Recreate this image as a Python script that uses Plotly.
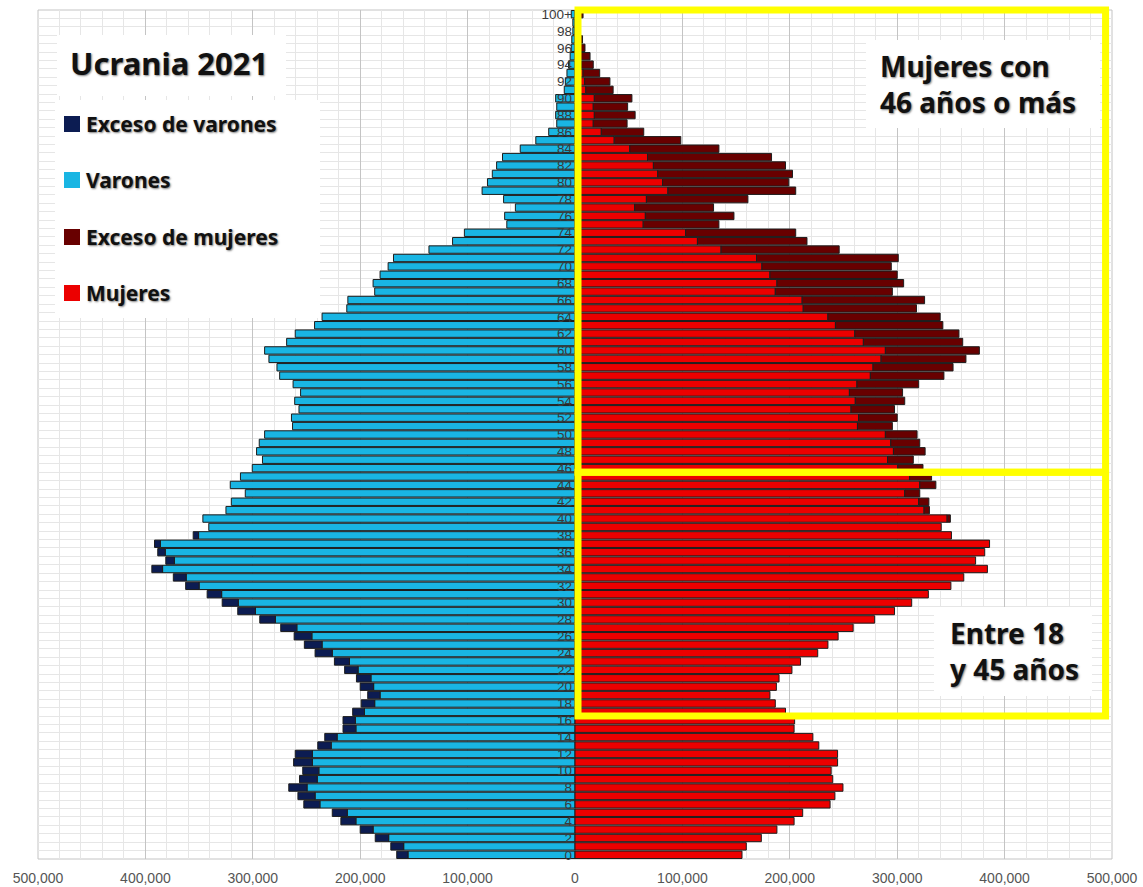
import plotly.graph_objects as go

# ---------------- data ----------------
ages = list(range(101))
age_labels = [str(a) if a < 100 else "100+" for a in ages]

male_total = [
    166000, 171500, 186000, 200000, 218000, 226000, 252500, 258000, 266500, 256500,   # 0-9
    253500, 262000, 260500, 239500, 233000, 216000, 216000, 207000, 199000, 193000,   # 10-19
    200000, 203500, 214500, 224000, 242000, 252000, 261500, 274000, 293500, 314000,   # 20-29
    328500, 342500, 362500, 374000, 394000, 381000, 388500, 391500, 355500, 341000,   # 30-39
    346500, 325000, 320000, 307000, 321000, 311500, 300500, 291000, 296500, 294000,   # 40-49
    289000, 263000, 264000, 257000, 261000, 255500, 262500, 275000, 277500, 285000,   # 50-59
    289000, 268500, 260500, 242500, 235500, 212500, 211500, 186500, 188000, 181500,   # 60-69
    174000, 169000, 136000, 114000, 103000, 63500, 65500, 55500, 66500, 86500,        # 70-79
    81500, 77000, 73000, 67500, 51000, 36500, 24500, 17000, 18000, 17000,             # 80-89
    18000, 10000, 9000, 7500, 6000, 4500, 3500, 3000, 2000, 2000,                     # 90-99
    3500,                                                                              # 100+
]

female_total = [
    155500, 159500, 173500, 188000, 204000, 212000, 237500, 242000, 249500, 240000,   # 0-9
    238500, 244500, 244500, 227000, 221500, 204000, 204500, 196000, 186500, 181500,   # 10-19
    187500, 190000, 202000, 210000, 226000, 235500, 245000, 259000, 279000, 297500,   # 20-29
    313500, 329000, 350000, 362000, 384000, 373000, 381500, 386000, 350500, 341000,   # 30-39
    349500, 330000, 329500, 321000, 336000, 332000, 324000, 315000, 326000, 321000,   # 40-49
    318500, 295500, 300000, 297500, 307000, 305000, 320000, 343500, 352000, 364000,   # 50-59
    376500, 361000, 357500, 342500, 340000, 318000, 325500, 295500, 306000, 300000,   # 60-69
    294500, 301000, 246000, 216000, 205500, 134000, 148000, 129000, 161000, 205500,   # 70-79
    199000, 202500, 196000, 183000, 134000, 98500, 64000, 48500, 56000, 49000,        # 80-89
    53000, 35500, 32500, 23000, 17000, 14000, 9300, 7000, 5000, 4000,                 # 90-99
    7500,                                                                              # 100+
]

x_ticks = [-500000, -400000, -300000, -200000, -100000, 0, 100000, 200000, 300000, 400000, 500000]
x_tick_text = [f"{abs(v):,}" for v in x_ticks]

legend_names = ["Exceso de varones", "Varones", "Exceso de mujeres", "Mujeres"]

# regions highlighted by the yellow frames (age boundaries, x extent in population)
older_region = (45.5, 100.5)
younger_region = (16.5, 45.5)
frame_x = (2800, 494000)

# ---------------- derived series ----------------
common = [min(m, f) for m, f in zip(male_total, female_total)]
excess_m = [(m - f) if m > f else None for m, f in zip(male_total, female_total)]
excess_f = [(f - m) if f > m else None for m, f in zip(male_total, female_total)]

C_BLUE = "#19b5e3"
C_NAVY = "#0c1c52"
C_RED = "#ec0000"
C_DRED = "#680000"
OUTLINE = dict(color="#1d1d1d", width=1)
legend_colors = [C_NAVY, C_BLUE, C_DRED, C_RED]

XMIN, XMAX = -500000, 500000
YMIN, YMAX = -0.5, 100.5

W, H = 1143, 887
ML, MR, MT, MB = 38, 31, 10, 28
PW, PH = W - ML - MR, H - MT - MB


def px_x(px):
    return (px - ML) / PW


def px_y(py):
    return (H - MB - py) / PH


def dx(v):
    return (v - XMIN) / (XMAX - XMIN)


def dy(v):
    return (v - YMIN) / (YMAX - YMIN)


fig = go.Figure()
fig.add_trace(go.Bar(
    y=ages, x=[-c for c in common], orientation="h", name="Varones",
    marker=dict(color=C_BLUE, line=OUTLINE),
))
fig.add_trace(go.Bar(
    y=ages, x=[(-e if e is not None else None) for e in excess_m], orientation="h",
    name="Exceso de varones", marker=dict(color=C_NAVY, line=OUTLINE),
))
fig.add_trace(go.Bar(
    y=ages, x=common, orientation="h", name="Mujeres",
    marker=dict(color=C_RED, line=OUTLINE),
))
fig.add_trace(go.Bar(
    y=ages, x=excess_f, orientation="h", name="Exceso de mujeres",
    marker=dict(color=C_DRED, line=OUTLINE),
))

SHADOW = "1px 1px 2px rgba(0,0,0,0.5)"
TXT_FONT = "Noto Sans"

shapes = [
    # plot frame
    dict(type="rect", xref="paper", yref="paper", x0=0, x1=1, y0=0, y1=1,
         line=dict(color="#c4c4c4", width=1), layer="below"),
    # white boxes behind the texts
    dict(type="rect", xref="paper", yref="paper", x0=px_x(57), x1=px_x(286), y0=px_y(96), y1=px_y(35),
         fillcolor="white", line=dict(width=0), layer="above"),
    dict(type="rect", xref="paper", yref="paper", x0=px_x(55), x1=px_x(320), y0=px_y(318), y1=px_y(100),
         fillcolor="white", line=dict(width=0), layer="above"),
    dict(type="rect", xref="paper", yref="paper", x0=px_x(866), x1=px_x(1100), y0=px_y(128), y1=px_y(40),
         fillcolor="white", line=dict(width=0), layer="above"),
    dict(type="rect", xref="paper", yref="paper", x0=px_x(934), x1=px_x(1092), y0=px_y(696), y1=px_y(607),
         fillcolor="white", line=dict(width=0), layer="above"),
    # yellow frames
    dict(type="rect", xref="paper", yref="paper", x0=dx(frame_x[0]), x1=dx(frame_x[1]),
         y0=dy(older_region[0]), y1=dy(older_region[1]),
         line=dict(color="#ffff00", width=7), layer="above"),
    dict(type="rect", xref="paper", yref="paper", x0=dx(frame_x[0]), x1=dx(frame_x[1]),
         y0=dy(younger_region[0]), y1=dy(younger_region[1]),
         line=dict(color="#ffff00", width=7), layer="above"),
]

annotations = [
    dict(text="<b>Ucrania 2021</b>", xref="paper", yref="paper", x=px_x(68), y=px_y(63),
         xanchor="left", yanchor="middle", showarrow=False,
         font=dict(family=TXT_FONT, size=31, color="#111111", shadow=SHADOW)),
    dict(text="<b>Mujeres con<br>46 años o más</b>", xref="paper", yref="paper", x=px_x(878), y=px_y(84),
         xanchor="left", yanchor="middle", showarrow=False, align="left",
         font=dict(family=TXT_FONT, size=28, color="#111111", shadow=SHADOW)),
    dict(text="<b>Entre 18<br>y 45 años</b>", xref="paper", yref="paper", x=px_x(948), y=px_y(651),
         xanchor="left", yanchor="middle", showarrow=False, align="left",
         font=dict(family=TXT_FONT, size=28, color="#111111", shadow=SHADOW)),
]

# hand-drawn legend (large square keys as in the reference)
leg_y = [124, 180, 237, 293]
for name, col, ly in zip(legend_names, legend_colors, leg_y):
    shapes.append(dict(type="rect", xref="paper", yref="paper",
                       x0=px_x(64), x1=px_x(80), y0=px_y(ly + 8), y1=px_y(ly - 8),
                       fillcolor=col, line=dict(width=0), layer="above"))
    annotations.append(dict(text=f"<b>{name}</b>", xref="paper", yref="paper",
                            x=px_x(84), y=px_y(ly), xanchor="left", yanchor="middle", showarrow=False,
                            font=dict(family=TXT_FONT, size=21, color="#111111", shadow=SHADOW)))

fig.update_layout(
    width=W, height=H,
    margin=dict(l=ML, r=MR, t=MT, b=MB, autoexpand=False),
    paper_bgcolor="white", plot_bgcolor="white",
    barmode="relative", bargap=0.12,
    shapes=shapes, annotations=annotations,
    showlegend=False,
    xaxis=dict(
        range=[XMIN, XMAX], tickmode="array", tickvals=x_ticks, ticktext=x_tick_text,
        tickfont=dict(family="Liberation Sans", size=14, color="#555555"),
        showgrid=True, gridcolor="#c4c4c4", gridwidth=1.3, zeroline=False,
        minor=dict(dtick=20000, tick0=0, showgrid=True, gridcolor="#e6e6e6", gridwidth=1),
        showline=False, ticks="", ticklabelstandoff=9, automargin=False,
    ),
    yaxis=dict(
        range=[YMIN, YMAX], tickmode="array", tickvals=ages[::2], ticktext=age_labels[::2],
        anchor="free", position=0.5, side="left",
        tickfont=dict(family="Liberation Sans", size=13.5, color="#3a3a3a"),
        showgrid=False, zeroline=False, showline=False, ticks="", ticklabelstandoff=3,
        minor=dict(dtick=1, tick0=0.5, showgrid=True, gridcolor="#e6e6e6", gridwidth=1),
        automargin=False,
    ),
)

fig.write_html("out.html", config={"displayModeBar": False},
               post_script="document.body.style.margin='0';document.body.style.overflow='hidden';")
